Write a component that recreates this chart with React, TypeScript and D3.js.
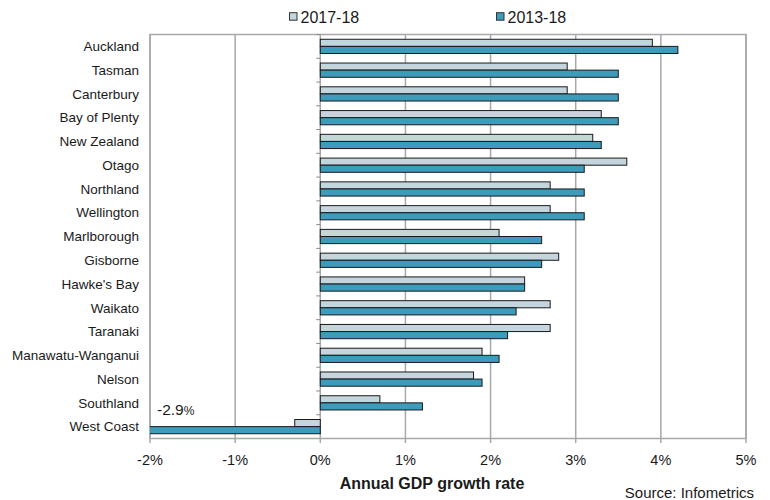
import React from "react";
import * as d3 from "d3";

const regions = [
  "Auckland", "Tasman", "Canterbury", "Bay of Plenty", "New Zealand", "Otago",
  "Northland", "Wellington", "Marlborough", "Gisborne", "Hawke's Bay", "Waikato",
  "Taranaki", "Manawatu-Wanganui", "Nelson", "Southland", "West Coast",
];
const growth1718 = [3.9, 2.9, 2.9, 3.3, 3.2, 3.6, 2.7, 2.7, 2.1, 2.8, 2.4, 2.7, 2.7, 1.9, 1.8, 0.7, -0.3];
const growth1318 = [4.2, 3.5, 3.5, 3.5, 3.3, 3.1, 3.1, 3.1, 2.6, 2.6, 2.4, 2.3, 2.2, 2.1, 1.9, 1.2, -2.9];
const seriesNames = ["2017-18", "2013-18"];
const xTicks = [-2, -1, 0, 1, 2, 3, 4, 5];
const colors = ["#c4d5dd", "#3d9bbc"];

const W = 770, H = 500;
const left = 150, right = 746, top = 34.5, bottom = 438.5;
const FONT = "'Liberation Sans', Arial, sans-serif";

export default function App() {
  const x = d3.scaleLinear().domain([-2, 5]).range([left, right]);
  const y = d3.scaleBand<string>().domain(regions).range([top, bottom]).padding(0);
  const inner = d3.scaleBand<string>().domain(seriesNames).range([0, y.bandwidth()])
    .paddingInner(0).paddingOuter(0.67);
  const series = [growth1718, growth1318];
  const fmt = (d: number) => `${d}%`;
  const westIdx = regions.length - 1;

  return (
    <svg width={W} height={H} style={{ position: "absolute", left: 0, top: 0, background: "#fff" }}
      fontFamily={FONT}>
      <defs>
        <clipPath id="plot">
          <rect x={left} y={top} width={right - left} height={bottom - top} />
        </clipPath>
      </defs>
      {/* plot border */}
      <rect x={left} y={top} width={right - left} height={bottom - top} fill="none" stroke="#a8a8a8" strokeWidth={1.5} />
      {/* gridlines */}
      {xTicks.map((t) => (
        <line key={t} x1={x(t)} x2={x(t)} y1={top} y2={bottom} stroke="#a8a8a8" strokeWidth={1.5} />
      ))}
      {/* x tick marks */}
      {xTicks.map((t) => (
        <line key={"tk" + t} x1={x(t)} x2={x(t)} y1={bottom} y2={bottom + 4.5} stroke="#a8a8a8" strokeWidth={1.5} />
      ))}
      {/* category ticks on 0 axis */}
      {regions.map((r) => (
        <line key={"ct" + r} x1={x(0) - 4} x2={x(0)} y1={y(r) as number} y2={y(r) as number}
          stroke="#888" strokeWidth={1} />
      ))}
      {/* bars */}
      <g clipPath="url(#plot)">
        {series.map((vals, s) =>
          regions.map((r, i) => {
            const v = vals[i];
            const x0 = x(Math.min(0, v));
            const x1 = x(Math.max(0, v));
            return (
              <rect key={s + r} x={x0} y={(y(r) as number) + (inner(seriesNames[s]) as number)}
                width={x1 - x0} height={inner.bandwidth()} fill={colors[s]}
                stroke="#1a1a1a" strokeWidth={1} />
            );
          })
        )}
      </g>
      {/* category labels */}
      {regions.map((r) => (
        <text key={"l" + r} x={139} y={(y(r) as number) + y.bandwidth() / 2} dy="0.35em"
          textAnchor="end" fontSize={13.5} fill="#1a1a1a">{r}</text>
      ))}
      {/* x tick labels */}
      {xTicks.map((t) => (
        <text key={"xl" + t} x={x(t)} y={464.5} textAnchor="middle" fontSize={14.5} fill="#1a1a1a">{fmt(t)}</text>
      ))}
      {/* West Coast annotation */}
      <text x={157} y={(y(regions[westIdx]) as number) + 0.5} fill="#1a1a1a">
        <tspan fontSize={15.5}>{growth1318[westIdx].toFixed(1)}</tspan>
        <tspan fontSize={12}>%</tspan>
      </text>
      {/* axis title */}
      <text x={432} y={488.5} textAnchor="middle" fontSize={16} fontWeight="bold" fill="#1a1a1a">
        Annual GDP growth rate
      </text>
      <text x={754} y={497.5} textAnchor="end" fontSize={15} fill="#1a1a1a">Source: Infometrics</text>
      {/* legend */}
      {seriesNames.map((n, s) => {
        const lx = s === 0 ? 289.5 : 496.5;
        return (
          <g key={"lg" + n}>
            <rect x={lx} y={12.7} width={7.5} height={7.5} fill={colors[s]} stroke="#333" strokeWidth={1} />
            <text x={lx + 11} y={23.3} fontSize={16} fill="#1a1a1a">{n}</text>
          </g>
        );
      })}
    </svg>
  );
}
